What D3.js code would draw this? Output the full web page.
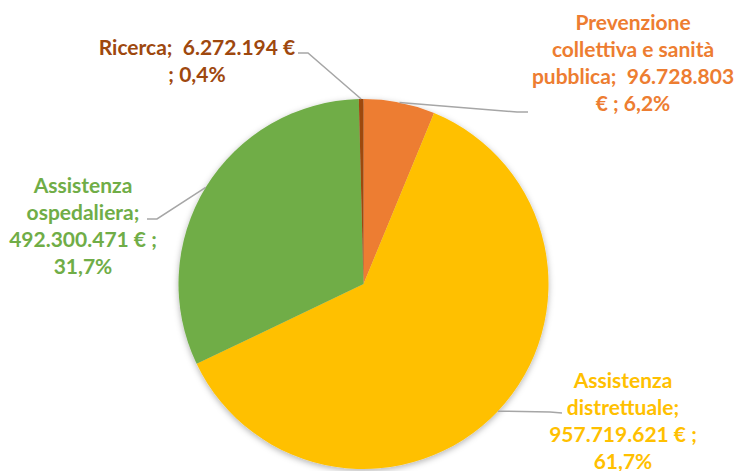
<!DOCTYPE html>
<html>
<head>
<meta charset="utf-8">
<script src="https://cdn.jsdelivr.net/npm/d3@7"></script>
<style>
  body { margin: 0; background: #fff; }
  text { font-family: Lato, "Open Sans", sans-serif; font-weight: bold; }
</style>
</head>
<body>
<script>
// data
var categories = ["Prevenzione collettiva e sanità pubblica", "Assistenza distrettuale", "Assistenza ospedaliera", "Ricerca"];
var values = [96728803, 957719621, 492300471, 6272194];
var colors = ["#ED7D31", "#FFC000", "#70AD47", "#9E480E"];

// label text as shown (Excel wrapping)
var labelLines = [
  ["Prevenzione", "collettiva e sanità", "pubblica;  96.728.803", "€ ; 6,2%"],
  ["Assistenza", "distrettuale;", "957.719.621 € ;", "61,7%"],
  ["Assistenza", "ospedaliera;", "492.300.471 € ;", "31,7%"],
  ["Ricerca;  6.272.194 €", "; 0,4%"]
];

var width = 735, height = 471;
var cx = 363.5, cy = 284, radius = 185;

// label placement: center x, first baseline y, and the short horizontal end of the leader
var labelPos = [
  { x: 633, y: 30, elbow: [517, 112], end: [528, 112] },
  { x: 623, y: 388, elbow: [550, 412], end: [562, 413] },
  { x: 83, y: 193, elbow: [157, 219], end: [147, 219] },
  { x: 197, y: 55, elbow: [308, 53], end: [298, 53] }
];
var lineHeight = 27;

var svg = d3.select("body").append("svg")
  .attr("width", width)
  .attr("height", height);

var defs = svg.append("defs");
var shadow = defs.append("filter").attr("id", "shadow")
  .attr("x", "-20%").attr("y", "-20%").attr("width", "140%").attr("height", "140%");
shadow.append("feDropShadow")
  .attr("dx", 0).attr("dy", 2).attr("stdDeviation", 3)
  .attr("flood-color", "#000").attr("flood-opacity", 0.3);

var pie = d3.pie().sort(null).value(function(d) { return d; });
var arcs = pie(values);

var arc = d3.arc().innerRadius(0).outerRadius(radius);

var g = svg.append("g")
  .attr("transform", "translate(" + cx + "," + cy + ")");

g.append("g").attr("filter", "url(#shadow)")
  .selectAll("path")
  .data(arcs)
  .enter().append("path")
  .attr("d", arc)
  .attr("fill", function(d, i) { return colors[i]; });

// leader lines: from the mid point of each slice's outer edge
var lines = svg.append("g");
arcs.forEach(function(d, i) {
  var mid = (d.startAngle + d.endAngle) / 2;
  var p0 = [cx + radius * Math.sin(mid), cy - radius * Math.cos(mid)];
  var p = labelPos[i];
  lines.append("polyline")
    .attr("points", [p0, p.elbow, p.end].map(function(q) { return q.join(","); }).join(" "))
    .attr("fill", "none")
    .attr("stroke", "#A6A6A6")
    .attr("stroke-width", 1.5);
});

// labels
var labels = svg.append("g");
labelLines.forEach(function(ls, i) {
  var t = labels.append("text")
    .attr("text-anchor", "middle")
    .attr("font-size", "21px")
    .attr("fill", colors[i]);
  ls.forEach(function(s, j) {
    t.append("tspan")
      .attr("x", labelPos[i].x)
      .attr("y", labelPos[i].y + j * lineHeight)
      .style("white-space", "pre")
      .text(s);
  });
});
</script>
</body>
</html>
